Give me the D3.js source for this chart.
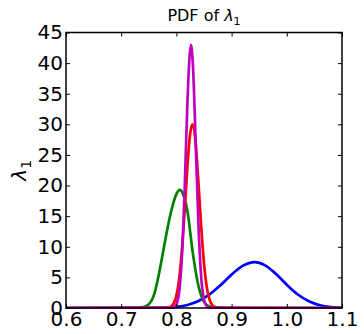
<!DOCTYPE html>
<html>
<head>
<meta charset="utf-8">
<script src="https://cdn.jsdelivr.net/npm/d3@7"></script>
<style>
  body { margin: 0; background: #fff; }
  svg { display: block; }
</style>
</head>
<body>
<div id="chart"></div>
<script>
    // Constants
    const width = 364;
    const height = 334;
    const margin = {top: 32.5, right: 22, bottom: 26, left: 66},
        plotWidth = width - margin.left - margin.right,
        plotHeight = height - margin.top - margin.bottom;
    const fontFamily = "DejaVu Sans";
    const lineWidth = 2.7;

    // Axis ticks
    const xTicks = [0.6, 0.7, 0.8, 0.9, 1.0, 1.1];
    const yTicks = [0, 5, 10, 15, 20, 25, 30, 35, 40, 45];

    // Densities (x = lambda_1, y = pdf)
    const blueX = [0.60, 0.74, 0.76, 0.78, 0.80, 0.82, 0.84, 0.86, 0.88, 0.90, 0.92, 0.942, 0.96, 0.98, 1.00, 1.02, 1.04, 1.06, 1.08, 1.10];
    const blueY = [0, 0.005, 0.02, 0.06, 0.19, 0.50, 1.14, 2.22, 3.73, 5.45, 6.87, 7.50, 7.00, 5.60, 3.80, 2.20, 1.10, 0.45, 0.15, 0.05];

    const greenX = [0.60, 0.72, 0.73, 0.74, 0.75, 0.76, 0.77, 0.78, 0.79, 0.80, 0.806, 0.81, 0.82, 0.83, 0.84, 0.85, 0.86, 0.87, 0.88, 0.90, 1.10];
    const greenY = [0, 0.01, 0.04, 0.15, 0.6, 2.3, 6.3, 11.2, 15.6, 18.6, 19.3, 19.0, 15.8, 8.8, 3.6, 1.0, 0.25, 0.05, 0.01, 0, 0];

    const redX = [0.60, 0.78, 0.79, 0.795, 0.80, 0.805, 0.81, 0.815, 0.82, 0.825, 0.829, 0.835, 0.84, 0.845, 0.85, 0.855, 0.86, 0.865, 0.87, 0.88, 1.10];
    const redY = [0, 0.01, 0.23, 0.74, 2.03, 4.75, 9.45, 16.0, 23.2, 28.5, 30.0, 26.7, 20.4, 13.2, 7.3, 3.45, 1.39, 0.47, 0.14, 0.01, 0];

    const magentaX = [0.60, 0.79, 0.795, 0.80, 0.805, 0.81, 0.815, 0.82, 0.8263, 0.83, 0.835, 0.84, 0.845, 0.85, 0.855, 0.86, 1.10];
    const magentaY = [0, 0.01, 0.10, 0.60, 2.61, 8.34, 19.5, 33.7, 43.0, 39.5, 26.9, 13.5, 4.96, 1.34, 0.27, 0.04, 0];

    const seriesColors = ["#0000ff", "#008000", "#ff0000", "#bf00bf"];

    var svg;

function makeChart()
{
    svg = d3.select("#chart")
        .append("svg")
        .attr("width", width)
        .attr("height", height);

    const x = d3.scaleLinear()
        .domain([0.6, 1.1])
        .range([0, plotWidth]);

    const y = d3.scaleLinear()
        .domain([0, 45])
        .range([plotHeight, 0]);

    let plot = svg.append("g")
        .attr("transform", "translate(" + margin.left + "," + margin.top + ")");

    plot.append("clipPath").attr("id", "clip")
        .append("rect")
        .attr("x", -1).attr("y", -1)
        .attr("width", plotWidth + 2)
        .attr("height", plotHeight + 2);

    const line = d3.line()
        .x(function(d){return x(d[0])})
        .y(function(d){return y(d[1])})
        .curve(d3.curveMonotoneX);

    const series = [
        d3.zip(blueX, blueY),
        d3.zip(greenX, greenY),
        d3.zip(redX, redY),
        d3.zip(magentaX, magentaY)
    ];

    plot.append("g")
        .attr("clip-path", "url(#clip)")
        .selectAll("path")
        .data(series)
        .enter()
        .append("path")
        .attr("d", function(d){return line(d)})
        .attr("fill", "none")
        .attr("stroke", function(d, i){return seriesColors[i]})
        .attr("stroke-width", lineWidth)
        .attr("stroke-linejoin", "round");

    // ticks on all four sides, pointing inwards
    plot.append("g")
        .attr("transform", "translate(0," + plotHeight + ")")
        .call(d3.axisBottom(x).tickValues(xTicks).tickFormat(d3.format(".1f"))
            .tickSizeInner(-4).tickSizeOuter(0).tickPadding(4));

    plot.append("g")
        .call(d3.axisLeft(y).tickValues(yTicks)
            .tickSizeInner(-4).tickSizeOuter(0).tickPadding(3));

    plot.append("g")
        .call(d3.axisTop(x).tickValues(xTicks).tickFormat("")
            .tickSizeInner(-4).tickSizeOuter(0));

    plot.append("g")
        .attr("transform", "translate(" + plotWidth + ",0)")
        .call(d3.axisRight(y).tickValues(yTicks).tickFormat("")
            .tickSizeInner(-4).tickSizeOuter(0));

    plot.selectAll(".domain").remove();
    plot.selectAll(".tick line").attr("stroke", "#000").attr("stroke-width", 1);

    plot.selectAll(".tick text")
        .style("font-family", fontFamily)
        .style("font-size", "20px")
        .attr("fill", "#000");

    // frame
    plot.append("rect")
        .attr("width", plotWidth)
        .attr("height", plotHeight)
        .attr("fill", "none")
        .attr("stroke", "#000")
        .attr("stroke-width", 1.5);

    // title
    let title = svg.append("text")
        .attr("x", margin.left + plotWidth / 2)
        .attr("y", 21)
        .attr("text-anchor", "middle")
        .style("font-family", fontFamily)
        .style("font-size", "16px");
    title.append("tspan").text("PDF of ");
    title.append("tspan").style("font-style", "italic").text("λ");
    title.append("tspan").attr("dy", 4).style("font-size", "11px").text("1");

    // y label
    let yLabel = svg.append("text")
        .attr("transform", "translate(26," + (margin.top + plotHeight / 2) + ") rotate(-90)")
        .attr("text-anchor", "middle")
        .style("font-family", fontFamily)
        .style("font-size", "20px");
    yLabel.append("tspan").style("font-style", "italic").text("λ");
    yLabel.append("tspan").attr("dy", 5).style("font-size", "14px").text("1");
}

makeChart();
</script>
</body>
</html>
